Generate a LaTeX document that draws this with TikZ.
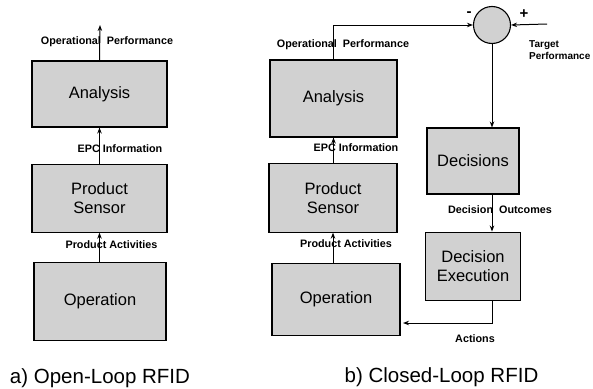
\documentclass[tikz,border=0pt]{standalone}
\usepackage{fontspec}
\setmainfont{Liberation Sans}
\usetikzlibrary{arrows.meta}
\usetikzlibrary{positioning}
\usetikzlibrary{shapes}
\tikzset{
  x = 1pt, y = -1pt,
  > = {Stealth[length = 6pt, width = 4.5pt]},
  block/.style = {rectangle,
                  draw,
                  line width = 1.1pt,
                  fill = black!18,
                  align = center,
                  inner sep = 0pt,
                  font = \fontsize{16.5}{19}\selectfont},
  flow/.style = {inner sep = 0pt,
                 font = \bfseries\fontsize{10.8}{12.5}\selectfont},
  caption/.style = {inner sep = 0pt,
                    font = \fontsize{20.5}{24}\selectfont},
  summer/.style = {circle,
                   draw,
                   line width = 1.1pt,
                   fill = black!18,
                   minimum size = 37pt,
                   inner sep = 0pt},
  wire/.style = {line width = 1pt}
}

\begin{document}
\begin{tikzpicture}
\useasboundingbox (0,0) rectangle (593,388);

% a) open loop
\node[block, minimum width = 135pt, minimum height = 66pt](analysis-a) at (99.5,94){Analysis};

\node[block, minimum width = 135pt, minimum height = 68pt](sensor-a)[below = 36pt of analysis-a]{Product\\Sensor};

\node[block, minimum width = 132pt, minimum height = 78pt](operation-a)[below = 29pt of sensor-a, xshift = 0.5pt]{Operation};

\coordinate (out-a) at (100,25);
\draw[wire, ->] (analysis-a.north) -- (out-a);
\draw[wire, ->] (sensor-a.north) -- (analysis-a.south);
\draw[wire, ->] (operation-a.north -| sensor-a.north) -- (sensor-a.south);

\node[flow](perf-a) at (107,42){Operational \ Performance};
\node[flow](epc-a) at (120,149){EPC Information};
\node[flow](act-a) at (111.5,245){Product Activities};

\node[caption](cap-a) at (100,378){a) Open-Loop RFID};

% b) closed loop
\node[block, minimum width = 127pt, minimum height = 77pt](analysis-b) at (333.5,98.5){Analysis};

\node[block, minimum width = 128pt, minimum height = 69pt](sensor-b)[below = 25pt of analysis-b, xshift = -0.5pt]{Product\\Sensor};

\node[block, minimum width = 128pt, minimum height = 72pt](operation-b)[below = 30pt of sensor-b, xshift = 3pt]{Operation};

\node[summer](sum) at (492,25){};
\node[flow, font = \bfseries\fontsize{15}{15}\selectfont](minus) at (469,14){-};
\node[flow, font = \bfseries\fontsize{15}{15}\selectfont](plus) at (524,14){+};

\node[block, minimum width = 92pt, minimum height = 66pt](decisions) at (473,161){Decisions};

\node[block, minimum width = 95pt, minimum height = 68pt](execution)[below = 37pt of decisions]{Decision\\Execution};

\coordinate (target) at (547,24);
\coordinate (actions-in) at (403,323);

\draw[wire, ->] (sensor-b.north -| analysis-b.north) -- (analysis-b.south);
\draw[wire, ->] (operation-b.north -| sensor-b.north) -- (sensor-b.south);
\draw[wire, ->] (analysis-b.north) |- (sum.west);
\draw[wire, ->] (target) -- (sum.east);
\draw[wire, ->] (sum.south) -- (sum.south |- decisions.north);
\draw[wire, ->] (sum.south |- decisions.south) -- (sum.south |- execution.north);
\draw[wire, ->] (sum.south |- execution.south) |- (actions-in);

\node[flow](perf-b) at (343,45){Operational \ Performance};
\node[flow](epc-b) at (356,148){EPC Information};
\node[flow](act-b) at (346,244){Product Activities};
\node[flow](outcomes) at (500,210){Decision \ Outcomes};
\node[flow](actions) at (475,339){Actions};
\node[flow, font = \bfseries\fontsize{10}{12}\selectfont, align = left, anchor = north west](target-label) at (529,40){Target\\Performance};

\node[caption](cap-b) at (441.5,377){b) Closed-Loop RFID};

\end{tikzpicture}
\end{document}
